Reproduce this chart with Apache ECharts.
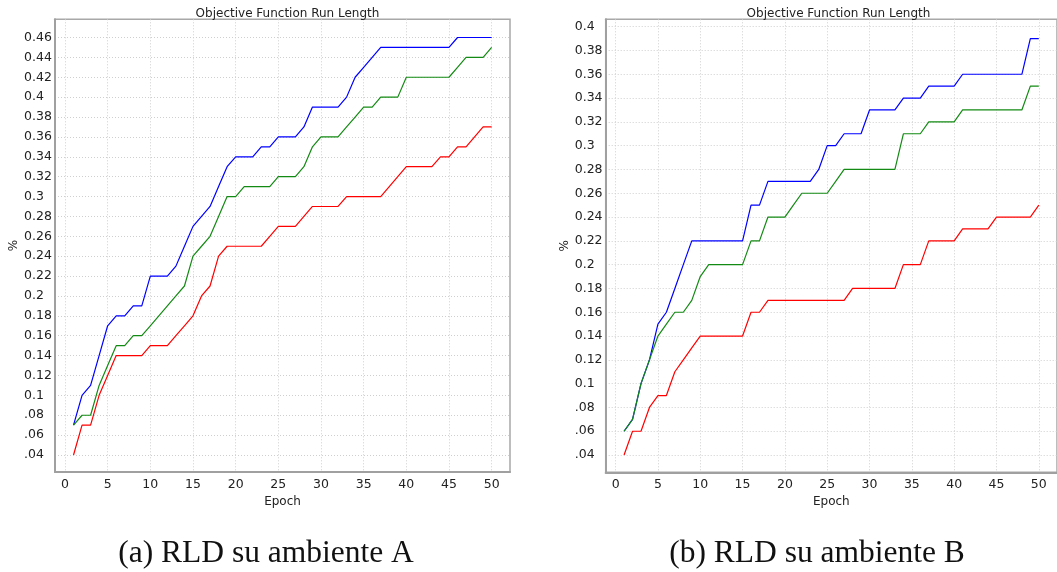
<!DOCTYPE html>
<html>
<head>
<meta charset="utf-8">
<script src="https://cdn.jsdelivr.net/npm/echarts@6/dist/echarts.min.js"></script>
<style>
  html, body { margin: 0; padding: 0; background: #ffffff; }
  #chart { width: 1057px; height: 572px; }
</style>
</head>
<body>
<div id="chart"></div>
<script>
// Run-length distributions for two environments, 50 epochs each.
const epochs = Array.from({ length: 50 }, (_, i) => i + 1);

const blueA = [0.07, 0.10, 0.11, 0.14, 0.17, 0.18, 0.18, 0.19, 0.19, 0.22,
  0.22, 0.22, 0.23, 0.25, 0.27, 0.28, 0.29, 0.31, 0.33, 0.34,
  0.34, 0.34, 0.35, 0.35, 0.36, 0.36, 0.36, 0.37, 0.39, 0.39,
  0.39, 0.39, 0.40, 0.42, 0.43, 0.44, 0.45, 0.45, 0.45, 0.45,
  0.45, 0.45, 0.45, 0.45, 0.45, 0.46, 0.46, 0.46, 0.46, 0.46];
const greenA = [0.07, 0.08, 0.08, 0.11, 0.13, 0.15, 0.15, 0.16, 0.16, 0.17,
  0.18, 0.19, 0.20, 0.21, 0.24, 0.25, 0.26, 0.28, 0.30, 0.30,
  0.31, 0.31, 0.31, 0.31, 0.32, 0.32, 0.32, 0.33, 0.35, 0.36,
  0.36, 0.36, 0.37, 0.38, 0.39, 0.39, 0.40, 0.40, 0.40, 0.42,
  0.42, 0.42, 0.42, 0.42, 0.42, 0.43, 0.44, 0.44, 0.44, 0.45];
const redA = [0.04, 0.07, 0.07, 0.10, 0.12, 0.14, 0.14, 0.14, 0.14, 0.15,
  0.15, 0.15, 0.16, 0.17, 0.18, 0.20, 0.21, 0.24, 0.25, 0.25,
  0.25, 0.25, 0.25, 0.26, 0.27, 0.27, 0.27, 0.28, 0.29, 0.29,
  0.29, 0.29, 0.30, 0.30, 0.30, 0.30, 0.30, 0.31, 0.32, 0.33,
  0.33, 0.33, 0.33, 0.34, 0.34, 0.35, 0.35, 0.36, 0.37, 0.37];

const blueB = [0.06, 0.07, 0.10, 0.12, 0.15, 0.16, 0.18, 0.20, 0.22, 0.22,
  0.22, 0.22, 0.22, 0.22, 0.22, 0.25, 0.25, 0.27, 0.27, 0.27,
  0.27, 0.27, 0.27, 0.28, 0.30, 0.30, 0.31, 0.31, 0.31, 0.33,
  0.33, 0.33, 0.33, 0.34, 0.34, 0.34, 0.35, 0.35, 0.35, 0.35,
  0.36, 0.36, 0.36, 0.36, 0.36, 0.36, 0.36, 0.36, 0.39, 0.39];
const greenB = [0.06, 0.07, 0.10, 0.12, 0.14, 0.15, 0.16, 0.16, 0.17, 0.19,
  0.20, 0.20, 0.20, 0.20, 0.20, 0.22, 0.22, 0.24, 0.24, 0.24,
  0.25, 0.26, 0.26, 0.26, 0.26, 0.27, 0.28, 0.28, 0.28, 0.28,
  0.28, 0.28, 0.28, 0.31, 0.31, 0.31, 0.32, 0.32, 0.32, 0.32,
  0.33, 0.33, 0.33, 0.33, 0.33, 0.33, 0.33, 0.33, 0.35, 0.35];
const redB = [0.04, 0.06, 0.06, 0.08, 0.09, 0.09, 0.11, 0.12, 0.13, 0.14,
  0.14, 0.14, 0.14, 0.14, 0.14, 0.16, 0.16, 0.17, 0.17, 0.17,
  0.17, 0.17, 0.17, 0.17, 0.17, 0.17, 0.17, 0.18, 0.18, 0.18,
  0.18, 0.18, 0.18, 0.20, 0.20, 0.20, 0.22, 0.22, 0.22, 0.22,
  0.23, 0.23, 0.23, 0.23, 0.24, 0.24, 0.24, 0.24, 0.24, 0.25];

// Tick values and their printed labels
const xTicks = [0, 5, 10, 15, 20, 25, 30, 35, 40, 45, 50];
const yTicksA = [0.04, 0.06, 0.08, 0.10, 0.12, 0.14, 0.16, 0.18, 0.20, 0.22, 0.24,
  0.26, 0.28, 0.30, 0.32, 0.34, 0.36, 0.38, 0.40, 0.42, 0.44, 0.46];
const yLabelsA = ['.04', '.06', '.08', '0.1', '0.12', '0.14', '0.16', '0.18', '0.2', '0.22', '0.24',
  '0.26', '0.28', '0.3', '0.32', '0.34', '0.36', '0.38', '0.4', '0.42', '0.44', '0.46'];
const yTicksB = [0.04, 0.06, 0.08, 0.10, 0.12, 0.14, 0.16, 0.18, 0.20, 0.22, 0.24,
  0.26, 0.28, 0.30, 0.32, 0.34, 0.36, 0.38, 0.40];
const yLabelsB = ['.04', '.06', '.08', '0.1', '0.12', '0.14', '0.16', '0.18', '0.2', '0.22', '0.24',
  '0.26', '0.28', '0.3', '0.32', '0.34', '0.36', '0.38', '0.4'];

const chartTitle = 'Objective Function Run Length';
const captions = ['(a) RLD su ambiente A', '(b) RLD su ambiente B'];
const seriesColors = ['#0000ff', '#138a13', '#ff0000'];

const SANS = 'DejaVu Sans';
const textColor = '#222222';

function lookup(ticks, labels) {
  return function (v) {
    for (let i = 0; i < ticks.length; i++) {
      if (Math.abs(ticks[i] - v) < 1e-6) return labels[i];
    }
    return '';
  };
}

function xAxisFor(gridIndex) {
  return {
    type: 'value', gridIndex: gridIndex,
    min: -1.17, max: 52.15,
    name: 'Epoch', nameLocation: 'middle', nameGap: 20,
    nameTextStyle: { fontFamily: SANS, fontSize: 12, color: textColor },
    axisLine: { show: true, onZero: false, lineStyle: { color: '#a0a0a0', width: 2 } },
    axisTick: { show: false, customValues: xTicks },
    axisLabel: { customValues: xTicks, fontFamily: SANS, fontSize: 12.5, color: textColor, margin: 6 },
    splitLine: { show: true, lineStyle: { color: '#cfcfcf', type: [1, 2], width: 1 } }
  };
}

function yAxisFor(gridIndex, min, max, ticks, labels) {
  return {
    type: 'value', gridIndex: gridIndex,
    min: min, max: max,
    name: '%', nameLocation: 'middle', nameGap: 34, nameRotate: 90,
    nameTextStyle: { fontFamily: SANS, fontSize: 12, color: textColor },
    axisLine: { show: true, onZero: false, lineStyle: { color: '#a0a0a0', width: 2 } },
    axisTick: { show: false, customValues: ticks },
    axisLabel: {
      customValues: ticks, formatter: lookup(ticks, labels),
      fontFamily: SANS, fontSize: 12.5, color: textColor,
      align: 'left', margin: 31
    },
    splitLine: { show: true, lineStyle: { color: '#cfcfcf', type: [1, 2], width: 1 } }
  };
}

function lineSeries(values, color, gridIndex) {
  return {
    type: 'line', xAxisIndex: gridIndex, yAxisIndex: gridIndex,
    data: epochs.map((e, i) => [e, values[i]]),
    showSymbol: false, symbol: 'none', silent: true, animation: false,
    lineStyle: { color: color, width: 1.2 },
    itemStyle: { color: color }
  };
}

const chart = echarts.init(document.getElementById('chart'), null, { renderer: 'canvas' });

chart.setOption({
  backgroundColor: '#ffffff',
  animation: false,
  title: [
    { text: chartTitle, left: 282.5, top: 3, textAlign: 'center',
      textStyle: { fontFamily: SANS, fontSize: 12, fontWeight: 'normal', color: textColor } },
    { text: chartTitle, left: 833.5, top: 3, textAlign: 'center',
      textStyle: { fontFamily: SANS, fontSize: 12, fontWeight: 'normal', color: textColor } },
    { text: captions[0], left: 261, top: 533, textAlign: 'center',
      textStyle: { fontFamily: 'Liberation Serif', fontSize: 31.5, fontWeight: 'normal', color: '#111111' } },
    { text: captions[1], left: 812, top: 533, textAlign: 'center',
      textStyle: { fontFamily: 'Liberation Serif', fontSize: 31.5, fontWeight: 'normal', color: '#111111' } }
  ],
  grid: [
    { left: 55, top: 19.3, width: 455, height: 452.7, show: true, borderColor: '#a8a8a8', borderWidth: 1.5, backgroundColor: 'transparent' },
    { left: 605.7, top: 19.3, width: 455.3, height: 453, show: true, borderColor: '#a8a8a8', borderWidth: 1.5, backgroundColor: 'transparent' }
  ],
  xAxis: [xAxisFor(0), xAxisFor(1)],
  yAxis: [
    yAxisFor(0, 0.0229, 0.4783, yTicksA, yLabelsA),
    yAxisFor(1, 0.0255, 0.4062, yTicksB, yLabelsB)
  ],
  series: [
    lineSeries(blueA, seriesColors[0], 0),
    lineSeries(greenA, seriesColors[1], 0),
    lineSeries(redA, seriesColors[2], 0),
    lineSeries(blueB, seriesColors[0], 1),
    lineSeries(greenB, seriesColors[1], 1),
    lineSeries(redB, seriesColors[2], 1)
  ]
});
</script>
</body>
</html>
